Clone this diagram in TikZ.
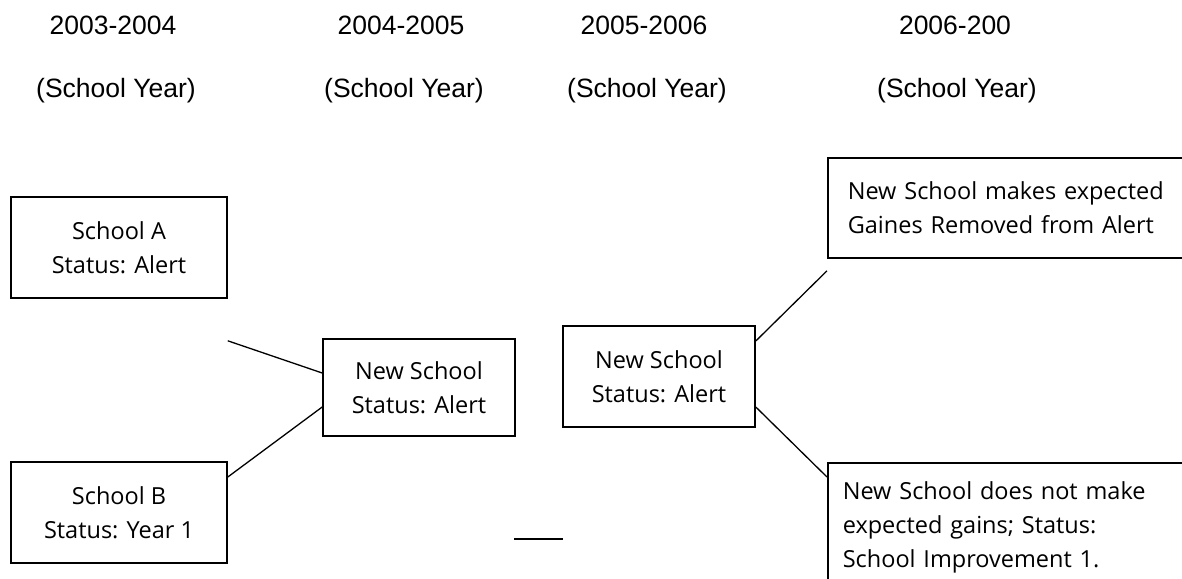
\documentclass[tikz,border=0pt]{standalone}
\usepackage{fontspec}
\setmainfont{Liberation Sans}
\newfontfamily\boxfont{Open Sans}

\tikzset{
  year/.style={anchor=base, font=\fontsize{26.5}{32}\selectfont},
  box/.style={draw, line width=1.6pt, align=center,
    font=\boxfont\fontsize{23.5}{34}\selectfont},
  link/.style={line width=1.3pt},
}

\begin{document}
\begin{tikzpicture}[x=1pt, y=-1pt]
    \useasboundingbox (0,0) rectangle (1182,578);
    \clip (0,0) rectangle (1182,578);

    \node[year] (yr1) at (113,35) {2003-2004};
    \node[year] (sy1) at (116,97) {(School Year)};
    \node[year] (yr2) at (401,35) {2004-2005};
    \node[year] (sy2) at (404,97) {(School Year)};
    \node[year] (yr3) at (644,35) {2005-2006};
    \node[year] (sy3) at (647,97) {(School Year)};
    \node[year] (yr4) at (955,35) {2006-200};
    \node[year] (sy4) at (957,97) {(School Year)};

    \node[box, minimum width=216pt, minimum height=101pt] (schoolA) at (119,247.5) {School A\\Status: Alert};
    \node[box, minimum width=216pt, minimum height=101pt] (schoolB) at (119,512.5) {School B\\Status: Year 1};
    \node[box, minimum width=192pt, minimum height=97pt] (newA) at (419,387.5) {New School\\Status: Alert};
    \node[box, minimum width=192pt, minimum height=101pt] (newB) at (659,376.5) {New School\\Status: Alert};
    \node[box, anchor=west, align=left, text width=340pt, inner xsep=20pt, minimum height=100pt] (gains) at (827,208)
        {New School makes expected\\Gaines Removed from Alert};
    \node[box, anchor=north west, align=left, text width=340pt, inner xsep=15pt, inner ysep=19pt] (nogains) at (827,462)
        {New School does not make\\expected gains; Status:\\School Improvement 1.};

    \coordinate (fromA) at ([yshift=-42pt]schoolA.south east);
    \draw[link] (fromA) -- ([yshift=14.5pt]newA.west);
    \draw[link] ([yshift=35.5pt]schoolB.east) -- ([yshift=-19.5pt]newA.west);
    \draw[link] ([yshift=35.5pt]newB.east) -- ([yshift=-12pt]gains.south west);
    \draw[link] ([yshift=-30.5pt]newB.east) -- ([yshift=-15pt]nogains.north west);

    \coordinate (stray) at (514,539);
    \draw[link] (stray) -- ++(49,0);
\end{tikzpicture}
\end{document}
